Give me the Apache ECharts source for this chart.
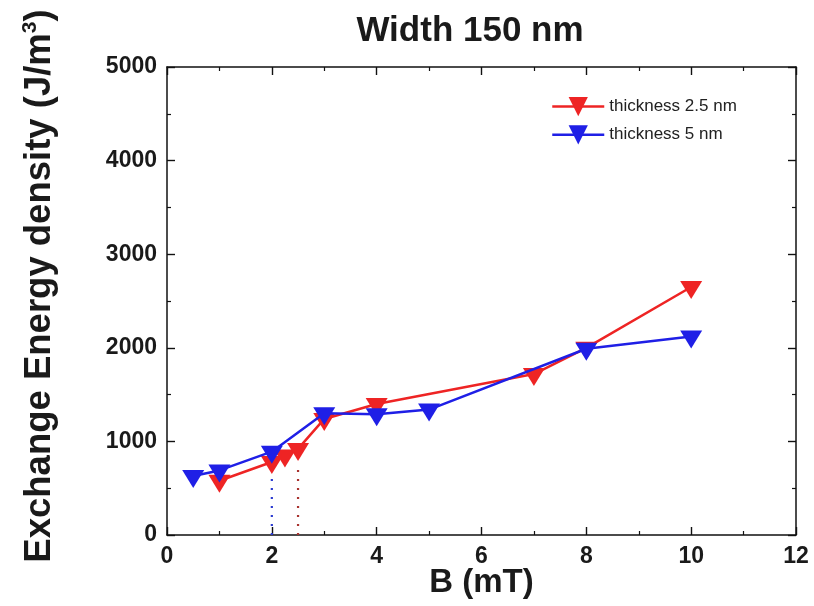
<!DOCTYPE html>
<html>
<head>
<meta charset="utf-8">
<script src="https://cdn.jsdelivr.net/npm/echarts@6/dist/echarts.min.js"></script>
<style>
  html, body { margin: 0; padding: 0; background: #fff; }
  #chart { width: 814px; height: 606px; }
</style>
</head>
<body>
<div id="chart"></div>
<script>
// Exchange energy density versus applied field, strip width 150 nm
const bThin = [1, 2, 2.25, 2.5, 3, 4, 7, 8, 10];            // B (mT), thickness 2.5 nm
const eThin = [580, 780, 850, 920, 1240, 1400, 1720, 2000, 2650];
const bThick = [0.5, 1, 2, 3, 4, 5, 8, 10];                 // B (mT), thickness 5 nm
const eThick = [630, 690, 890, 1300, 1290, 1340, 1990, 2120];

// vertical dotted guides marking the critical fields
const guideThick = [2, 650];
const guideThin = [2.5, 760];

const seriesNames = ['thickness 2.5 nm', 'thickness 5 nm'];
const xTicks = [0, 12, 2];     // min, max, interval
const yTicks = [0, 5000, 1000];

const RED = '#ee2424';
const BLUE = '#1f1fe6';
const FONT = '"Liberation Sans", Arial, sans-serif';
const DOWN_TRI = 'path://M0,0 L22,0 L11,18 Z';

const pairs = (xs, ys) => xs.map((x, i) => [x, ys[i]]);

const chart = echarts.init(document.getElementById('chart'));

function axisBase(pos, range, showLabels) {
  return {
    type: 'value',
    position: pos,
    min: range[0], max: range[1], interval: range[2],
    axisLine: { show: true, onZero: false, lineStyle: { color: '#111', width: 1.5 } },
    axisTick: { show: true, inside: true, length: 8, lineStyle: { color: '#111', width: 1.4 } },
    minorTick: { show: true, splitNumber: 2, length: 4, lineStyle: { color: '#111', width: 1.2 } },
    splitLine: { show: false },
    axisLabel: {
      show: showLabels, margin: 10,
      formatter: (v) => String(v),
      fontFamily: FONT, fontWeight: 'bold', fontSize: 23, color: '#1a1a1a'
    }
  };
}

const xMain = axisBase('bottom', xTicks, true);
xMain.name = 'B (mT)';
xMain.nameLocation = 'middle';
xMain.nameGap = 31;
xMain.nameMoveOverlap = false;
xMain.nameTextStyle = { fontFamily: FONT, fontWeight: 'bold', fontSize: 33, color: '#1a1a1a' };

const yMain = axisBase('left', yTicks, true);
yMain.name = 'Exchange Energy density (J/m{sup|3})';
yMain.nameLocation = 'middle';
yMain.nameGap = 108;
yMain.nameMoveOverlap = false;
yMain.nameTextStyle = {
  fontFamily: FONT, fontWeight: 'bold', fontSize: 36.5, color: '#1a1a1a',
  padding: [0, 0, 0, 30],
  rich: { sup: { fontFamily: FONT, fontWeight: 'bold', fontSize: 21, verticalAlign: 'top', padding: [0, 0, 18, 0], color: '#1a1a1a' } }
};

chart.setOption({
  backgroundColor: '#ffffff',
  animation: false,
  title: {
    text: 'Width 150 nm',
    left: 465, top: 9, textAlign: 'center',
    textStyle: { fontFamily: FONT, fontWeight: 'bold', fontSize: 35, color: '#1a1a1a' }
  },
  grid: { left: 167, right: 18, top: 67, bottom: 71, outerBoundsMode: 'none' },
  legend: {
    data: seriesNames,
    orient: 'vertical',
    left: 546, top: 92,
    itemWidth: 52, itemHeight: 24, itemGap: 9,
    lineStyle: { width: 2.5 },
    textStyle: { fontFamily: FONT, fontSize: 17, color: '#222' }
  },
  xAxis: [xMain, axisBase('top', xTicks, false)],
  yAxis: [yMain, axisBase('right', yTicks, false)],
  series: [
    {
      name: 'guide-thick', type: 'line', data: [[guideThick[0], 0], guideThick],
      symbol: 'none', silent: true, z: 1,
      lineStyle: { color: '#2a3ad0', width: 2.2, type: [2, 7] }
    },
    {
      name: 'guide-thin', type: 'line', data: [[guideThin[0], 0], guideThin],
      symbol: 'none', silent: true, z: 1,
      lineStyle: { color: '#a8322f', width: 2.2, type: [2, 7] }
    },
    {
      name: seriesNames[0], type: 'line', data: pairs(bThin, eThin),
      symbol: DOWN_TRI, symbolSize: [22, 18], symbolOffset: [0, 3],
      itemStyle: { color: RED }, lineStyle: { color: RED, width: 2.5 }, z: 3
    },
    {
      name: seriesNames[1], type: 'line', data: pairs(bThick, eThick),
      symbol: DOWN_TRI, symbolSize: [22, 18], symbolOffset: [0, 3],
      itemStyle: { color: BLUE }, lineStyle: { color: BLUE, width: 2.5 }, z: 4
    }
  ]
});
</script>
</body>
</html>
